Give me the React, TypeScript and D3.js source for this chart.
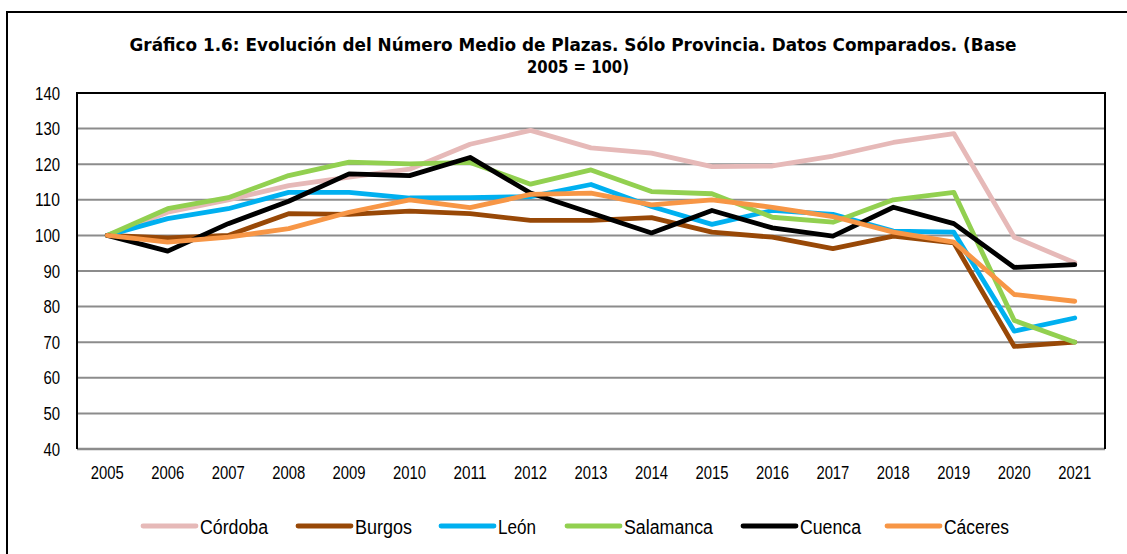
import React from "react";
import * as d3 from "d3";

const years = ["2005","2006","2007","2008","2009","2010","2011","2012","2013","2014","2015","2016","2017","2018","2019","2020","2021"];
const cordoba = [100,106.5,110,114,116.4,118.6,125.6,129.5,124.6,123.1,119.3,119.5,122.3,126.1,128.6,99.5,92.3];
const burgos = [100,99.3,100,106.1,105.9,106.8,106.1,104.2,104.2,105,100.9,99.5,96.3,99.8,97.9,68.8,70];
const leon = [100,104.7,107.5,112.1,112.1,110.5,110.6,110.9,114.3,108.1,103.1,107,105.9,101.2,100.9,73.1,76.8];
const salamanca = [100,107.5,110.6,116.8,120.6,120.1,120.5,114.4,118.4,112.3,111.7,105.1,103.7,110,112.1,76.1,70];
const cuenca = [100,95.6,103.3,109.6,117.3,116.8,121.9,111.9,106.3,100.7,107,102.1,99.8,107.9,103.3,91,91.8];
const caceres = [100,98.1,99.5,101.9,106.5,110,107.8,111.5,111.9,108.6,110,107.9,105.3,100.9,98.1,83.4,81.5];
const yTicks = [40,50,60,70,80,90,100,110,120,130,140];

const seriesNames = ["Córdoba","Burgos","León","Salamanca","Cuenca","Cáceres"];
const seriesValues = [cordoba, burgos, leon, salamanca, cuenca, caceres];
const seriesColors = ["#E6B9B8","#984807","#00B0F0","#92D050","#000000","#F79646"];
const legendX = [143, 298, 441, 567, 743, 887];
const legendTextW = [68, 57, 38, 89, 61, 65];

const titleLine1 = "Gráfico 1.6: Evolución del Número Medio de Plazas. Sólo Provincia. Datos Comparados. (Base";
const titleLine2 = "2005 = 100)";

export default function App() {
  const W = 1127, H = 554;
  const left = 77, right = 1105, top = 93, bottom = 449;
  const x = d3.scaleBand<string>().domain(years).range([left, right]);
  const y = d3.scaleLinear().domain([40, 140]).range([bottom, top]);
  const cx = (yr: string) => (x(yr) as number) + x.bandwidth() / 2;
  const line = d3.line<number>().x((_, i) => cx(years[i])).y(v => y(v));
  const tickFont = "'Liberation Sans', Arial, sans-serif";
  const titleFont = "Tahoma, 'DejaVu Sans', sans-serif";
  return (
    <svg width={W} height={H} style={{ position: "absolute", left: 0, top: 0, background: "#fff" }}>
      <rect x={0} y={0} width={W} height={H} fill="#fff" />
      <rect x={7} y={12} width={1140} height={560} fill="none" stroke="#000" strokeWidth={2} />
      <text x={573} y={51} textAnchor="middle" fontFamily={titleFont} fontWeight="bold" fontSize={17} textLength={887} lengthAdjust="spacingAndGlyphs">{titleLine1}</text>
      <text x={578} y={73} textAnchor="middle" fontFamily={titleFont} fontWeight="bold" fontSize={17} textLength={102} lengthAdjust="spacingAndGlyphs">{titleLine2}</text>
      {yTicks.map(t => (
        <g key={t}>
          {t !== 140 && t !== 40 && <line x1={left} x2={right} y1={y(t)} y2={y(t)} stroke="#8c8c8c" strokeWidth={2} />}
          <text x={60} y={y(t) + 6.5} textAnchor="end" fontFamily={tickFont} fontSize={18} textLength={String(t).length * 8.3} lengthAdjust="spacingAndGlyphs" fill="#000">{t}</text>
        </g>
      ))}
      <line x1={left} x2={right} y1={bottom} y2={bottom} stroke="#8c8c8c" strokeWidth={2.5} />
      <polyline points={`${left},${bottom} ${left},${top} ${right},${top} ${right},${bottom}`} fill="none" stroke="#000" strokeWidth={2} />
      {years.map(yr => (
        <text key={yr} x={cx(yr)} y={478.5} textAnchor="middle" fontFamily={tickFont} fontSize={18} textLength={33} lengthAdjust="spacingAndGlyphs" fill="#000">{yr}</text>
      ))}
      {seriesValues.map((vals, i) => (
        <path key={seriesNames[i]} d={line(vals) || ""} fill="none" stroke={seriesColors[i]} strokeWidth={4.8} strokeLinejoin="round" strokeLinecap="round" />
      ))}
      {seriesNames.map((n, i) => (
        <g key={n}>
          <line x1={legendX[i]} x2={legendX[i] + 53} y1={526} y2={526} stroke={seriesColors[i]} strokeWidth={4.8} strokeLinecap="round" />
          <text x={legendX[i] + 57} y={533.5} fontFamily={tickFont} fontSize={20} textLength={legendTextW[i]} lengthAdjust="spacingAndGlyphs" fill="#000">{n}</text>
        </g>
      ))}
    </svg>
  );
}
